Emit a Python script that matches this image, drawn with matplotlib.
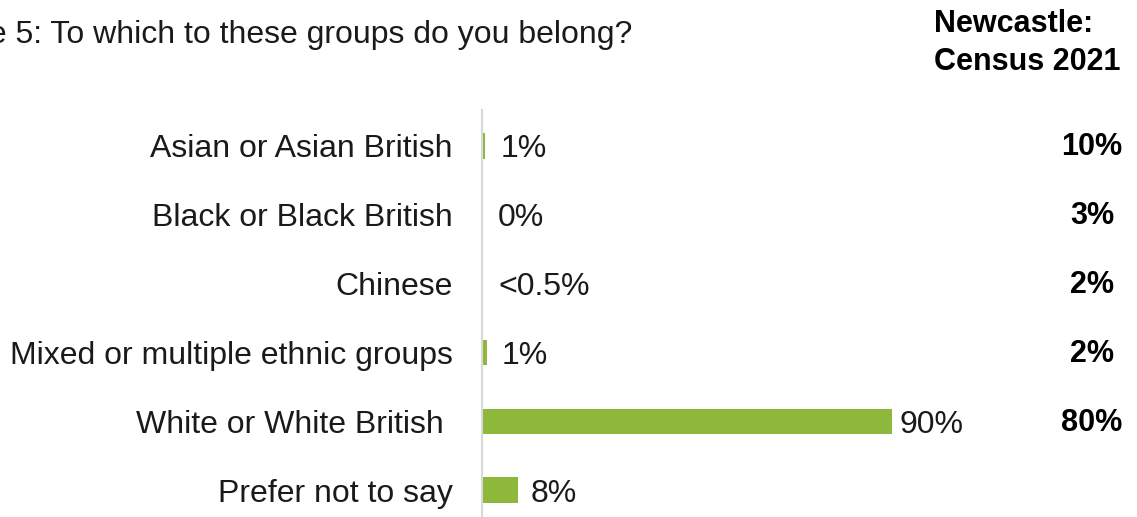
import matplotlib.pyplot as plt
from matplotlib.transforms import blended_transform_factory

plt.rcParams['font.family'] = ['Liberation Sans', 'DejaVu Sans']

# survey responses vs census share
groups = ['Asian or Asian British', 'Black or Black British', 'Chinese',
          'Mixed or multiple ethnic groups', 'White or White British ',
          'Prefer not to say']
survey_pct = [0.7, 0, 0.3, 1, 90, 8]
survey_labels = ['1%', '0%', '<0.5%', '1%', '90%', '8%']
census_labels = ['10%', '3%', '2%', '2%', '80%', '']

W, H = 1137, 517
fig = plt.figure(figsize=(W / 100, H / 100), dpi=100)

# axes spans from the vertical axis line to the right edge
left_px, top_px = 482, 110
ax = fig.add_axes([left_px / W, 0, 1 - left_px / W, 1 - top_px / H])

green = '#8DB83B'
pos = list(range(len(groups)))
ax.barh(pos, survey_pct, height=0.37, color=green)

ax.set_xlim(0, (W - left_px) / 4.56)
ax.set_ylim(5.39, -0.523)

for i, (v, lab) in enumerate(zip(survey_pct, survey_labels)):
    dx = 5 if v > 50 else (9 if v > 5 else 11)
    ax.annotate(lab, (v, i), xytext=(dx, -2.5),
                textcoords='offset points', va='center', ha='left',
                fontsize=23, color='#1a1a1a')

ax.set_yticks(pos)
ax.set_yticklabels(groups, fontsize=23, color='#1a1a1a')
ax.tick_params(axis='y', length=0, pad=21)
ax.set_xticks([])

for side in ['top', 'right', 'bottom']:
    ax.spines[side].set_visible(False)
ax.spines['left'].set_color('#D9D9D9')
ax.spines['left'].set_linewidth(1.5)

# Newcastle census column
trans = blended_transform_factory(fig.transFigure, ax.transData)
for i, lab in enumerate(census_labels):
    ax.annotate(lab, (1092 / W, i), xycoords=trans, xytext=(0, -1),
                textcoords='offset points', ha='center', va='center',
                fontsize=22, fontweight='bold', color='black',
                annotation_clip=False)

fig.text(934 / W, 1 - 43 / H, 'Newcastle:\nCensus 2021', ha='left',
         va='center', fontsize=22, fontweight='bold', linespacing=1.35)

fig.text(632 / W, 1 - 35 / H, 'Figure 5: To which to these groups do you belong?',
         ha='right', va='center', fontsize=23, color='#1a1a1a')

fig.savefig('out.png', dpi=100)
